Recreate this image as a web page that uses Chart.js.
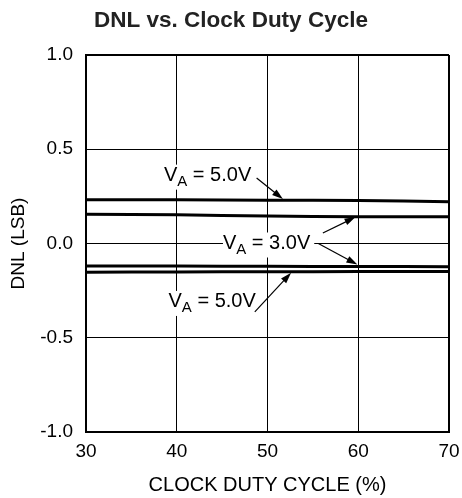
<!DOCTYPE html>
<html>
<head>
<meta charset="utf-8">
<script src="https://cdn.jsdelivr.net/npm/chart.js@4"></script>
<style>
  html, body { margin: 0; padding: 0; background: #fff; }
  #wrap { width: 462px; height: 498px; }
</style>
</head>
<body>
<div id="wrap"><canvas id="dnlChart"></canvas></div>
<script>
// duty cycle (%) where values were read
const dutyCycle = [30, 40, 50, 60, 70];
const dnl5vHigh = [0.232, 0.232, 0.230, 0.228, 0.222];
const dnl3vHigh = [0.155, 0.152, 0.146, 0.142, 0.142];
const dnl3vLow = [-0.119, -0.120, -0.121, -0.122, -0.123];
const dnl5vLow = [-0.152, -0.151, -0.150, -0.149, -0.148];
const xTicks = [30, 40, 50, 60, 70];
const yTicks = [-1.0, -0.5, 0.0, 0.5, 1.0];

// labels with arrows, positions in data units
const notes = [
  { text: '5.0V', x: 43.4, y: 0.36, arrows: [[48.8, 0.347, 51.7, 0.236]] },
  { text: '3.0V', x: 49.9, y: 0.0, arrows: [[56.1, 0.056, 59.7, 0.14], [55.6, 0.0, 59.9, -0.112]] },
  { text: '5.0V', x: 43.9, y: -0.31, arrows: [[48.6, -0.363, 52.6, -0.155]] }
];

function toPoints(ys) {
  return dutyCycle.map((x, i) => ({ x: x, y: ys[i] }));
}

const notePlugin = {
  id: 'notes',
  afterDatasetsDraw(chart) {
    const ctx = chart.ctx;
    const xs = chart.scales.x, ys = chart.scales.y;
    ctx.save();
    const big = '20px "Liberation Sans", Arial, sans-serif';
    const small = '15px "Liberation Sans", Arial, sans-serif';
    notes.forEach(n => {
      const parts = [['V', big, 0], ['A', small, 6], [' = ' + n.text, big, 0]];
      let w = 0;
      parts.forEach(p => { ctx.font = p[1]; w += ctx.measureText(p[0]).width; });
      const cx = xs.getPixelForValue(n.x);
      const cy = ys.getPixelForValue(n.y);
      let px = cx - w / 2;
      ctx.fillStyle = '#fff';
      ctx.fillRect(px, cy - 11, w + 4, 25);
      ctx.fillStyle = '#000';
      ctx.textBaseline = 'middle';
      ctx.textAlign = 'left';
      parts.forEach(p => {
        ctx.font = p[1];
        ctx.fillText(p[0], px, cy + p[2]);
        px += ctx.measureText(p[0]).width;
      });
      n.arrows.forEach(a => {
        const x1 = xs.getPixelForValue(a[0]), y1 = ys.getPixelForValue(a[1]);
        const x2 = xs.getPixelForValue(a[2]), y2 = ys.getPixelForValue(a[3]);
        const ang = Math.atan2(y2 - y1, x2 - x1);
        ctx.strokeStyle = '#000';
        ctx.lineWidth = 1.2;
        ctx.beginPath();
        ctx.moveTo(x1, y1);
        ctx.lineTo(x2 - 8 * Math.cos(ang), y2 - 8 * Math.sin(ang));
        ctx.stroke();
        ctx.beginPath();
        ctx.moveTo(x2, y2);
        ctx.lineTo(x2 - 11 * Math.cos(ang) + 3.5 * Math.sin(ang), y2 - 11 * Math.sin(ang) - 3.5 * Math.cos(ang));
        ctx.lineTo(x2 - 11 * Math.cos(ang) - 3.5 * Math.sin(ang), y2 - 11 * Math.sin(ang) + 3.5 * Math.cos(ang));
        ctx.closePath();
        ctx.fill();
      });
    });
    ctx.restore();
  }
};

const lineStyle = { borderColor: '#000', borderWidth: 3, pointRadius: 0, fill: false, tension: 0.3 };

new Chart(document.getElementById('dnlChart'), {
  type: 'line',
  data: {
    datasets: [
      Object.assign({ label: 'VA = 5.0V', data: toPoints(dnl5vHigh) }, lineStyle),
      Object.assign({ label: 'VA = 3.0V', data: toPoints(dnl3vHigh) }, lineStyle),
      Object.assign({ label: 'VA = 3.0V', data: toPoints(dnl3vLow) }, lineStyle),
      Object.assign({ label: 'VA = 5.0V', data: toPoints(dnl5vLow) }, lineStyle)
    ]
  },
  options: {
    responsive: true,
    maintainAspectRatio: false,
    animation: false,
    layout: { padding: 0 },
    plugins: {
      legend: { display: false },
      tooltip: { enabled: false },
      title: {
        display: true,
        text: 'DNL vs. Clock Duty Cycle',
        color: '#222',
        font: { family: '"Liberation Sans", Arial, sans-serif', size: 22.5, weight: 'bold' },
        padding: { top: 7, bottom: 21 }
      }
    },
    scales: {
      x: {
        type: 'linear',
        min: 30,
        max: 70,
        afterBuildTicks: s => { s.ticks = xTicks.map(v => ({ value: v })); },
        afterFit: s => { s.height = 66; s.paddingLeft = 0; s.paddingRight = 13; },
        grid: { color: '#000', lineWidth: c => (c.tick && c.tick.value === 70 ? 2 : 1), drawTicks: false },
        border: { color: '#000', width: 2 },
        ticks: { color: '#000', padding: 8, font: { family: '"Liberation Sans", Arial, sans-serif', size: 19 } },
        title: {
          display: true,
          text: 'CLOCK DUTY CYCLE (%)',
          color: '#000',
          font: { family: '"Liberation Sans", Arial, sans-serif', size: 20 },
          padding: { top: 0, bottom: 1 }
        }
      },
      y: {
        type: 'linear',
        min: -1,
        max: 1,
        afterBuildTicks: s => { s.ticks = yTicks.map(v => ({ value: v })); },
        afterFit: s => { s.width = 86; },
        grid: { color: '#000', lineWidth: c => (c.tick && c.tick.value === 1 ? 2 : 1), drawTicks: false },
        border: { color: '#000', width: 2 },
        ticks: {
          color: '#000',
          padding: 13,
          font: { family: '"Liberation Sans", Arial, sans-serif', size: 19 },
          callback: v => v.toFixed(1)
        },
        title: {
          display: true,
          text: 'DNL (LSB)',
          color: '#000',
          font: { family: '"Liberation Sans", Arial, sans-serif', size: 19 },
          padding: { top: 7, bottom: 0 }
        }
      }
    }
  },
  plugins: [notePlugin]
});
</script>
</body>
</html>
